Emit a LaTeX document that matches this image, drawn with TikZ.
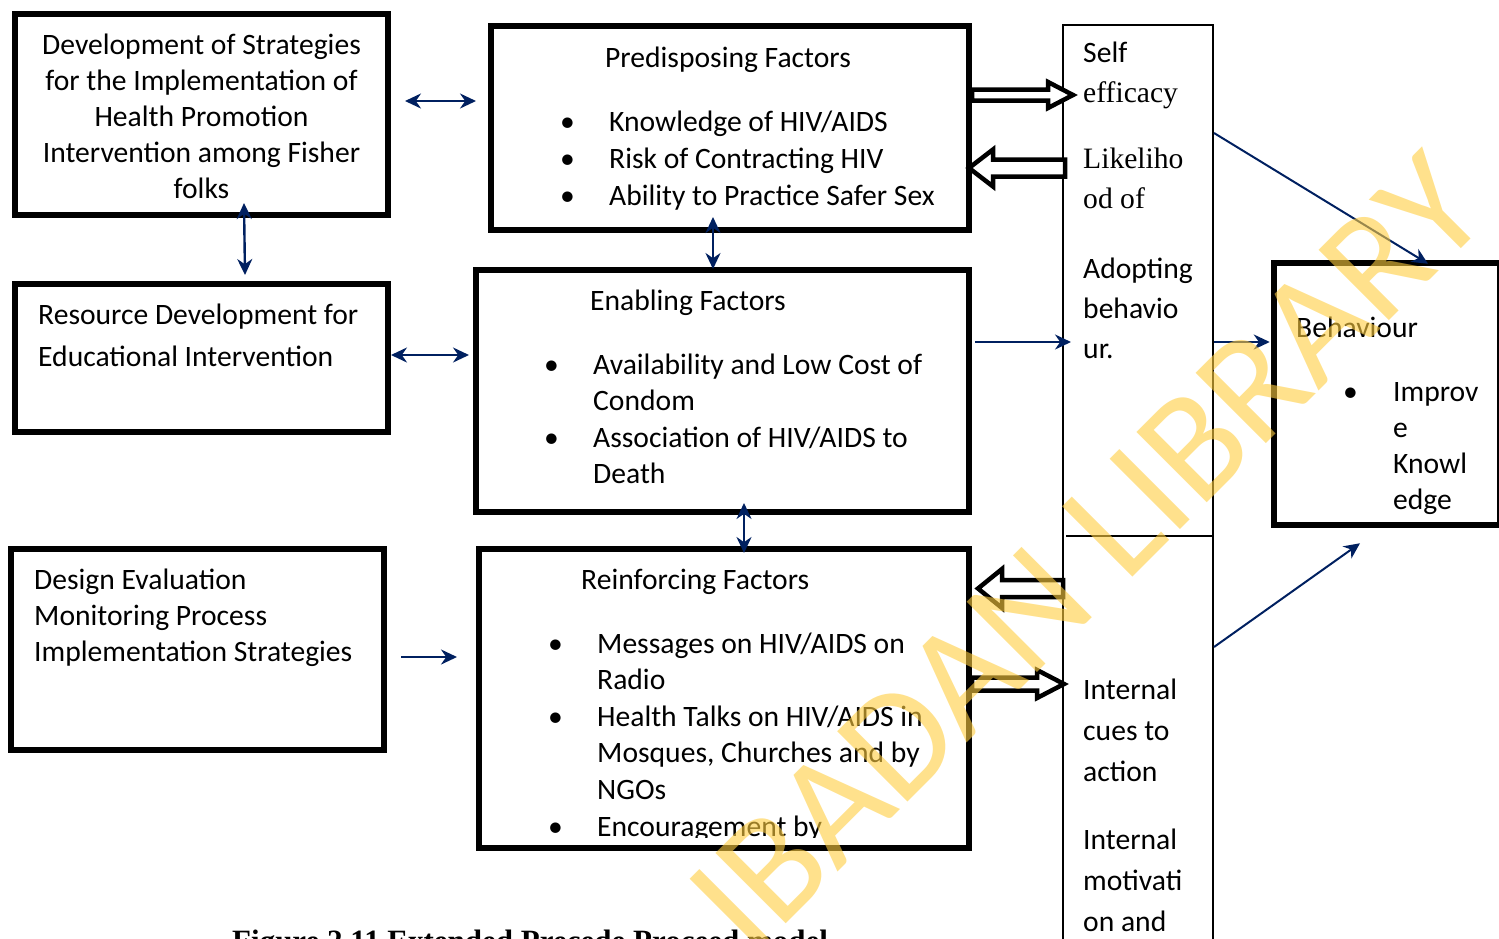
\documentclass[tikz,border=0pt]{standalone}
\usepackage{fontspec}
\setmainfont{Carlito}
\newfontfamily\timesf{Liberation Serif}
\usetikzlibrary{arrows.meta,positioning}

\definecolor{navy}{RGB}{0,32,96}
\definecolor{wmark}{RGB}{255,205,63}

\newcommand{\bul}{\makebox[49pt][l]{\textbullet}}
\newcommand{\ind}{\hspace*{49pt}}

\begin{document}
\begin{tikzpicture}[x=1pt,y=-1pt,
    box/.style={draw, line width=6pt, inner sep=0pt},
    txt/.style={inner sep=0pt, font=\fontsize{29.6}{36}\selectfont},
    lst/.style={txt, anchor=base west, align=left},
    link/.style={navy, line width=2.4pt, -{Stealth[length=16pt,width=15pt]}},
    links/.style={navy, line width=2.4pt, {Stealth[length=16pt,width=15pt]}-{Stealth[length=16pt,width=15pt]}},
    hollow/.style={draw=black, fill=white, line width=4.5pt}]
    \useasboundingbox (0,0) rectangle (1499,938);
    \clip (0,0) rectangle (1499,938);

    % Boxes
    \node[box, minimum width=373pt, minimum height=201pt] (dev) at (201.5,114.5) {};
    \node[box, minimum width=478pt, minimum height=204pt] (pre) at (730,128) {};
    \node[box, minimum width=373pt, minimum height=148pt] (res) at (201.5,358) {};
    \node[box, minimum width=493pt, minimum height=242pt] (ena) at (722.5,391) {};
    \node[box, minimum width=373pt, minimum height=201pt] (des) at (197.5,649.5) {};
    \node[box, minimum width=490pt, minimum height=299pt] (rei) at (724,698.5) {};
    \node[box, line width=6.5pt, minimum width=226pt, minimum height=262pt] (beh) at (1387,394) {};
    \node[draw, line width=2pt, inner sep=0pt, minimum width=150pt, minimum height=935pt] (col) at (1138,492.5) {};
    \coordinate (split) at (1066,536);
    \draw[line width=2pt] (split) -- (split -| col.east);

    % Texts (multi-line nodes sit on the baseline of their last line)
    \node[txt, align=center, anchor=base] (devtxt) at (201.5,198)
        {Development of Strategies\\for the Implementation of\\Health Promotion\\Intervention among Fisher\\folks};
    \node[txt, anchor=base] (pretitle) at (728,67) {Predisposing Factors};
    \node[lst, font=\fontsize{29.6}{37}\selectfont] (prelist) at (560,205)
        {\bul Knowledge of HIV/AIDS\\\bul Risk of Contracting HIV\\\bul Ability to Practice Safer Sex};
    \node[lst, font=\fontsize{29.6}{42}\selectfont] (restxt) at (38,366)
        {Resource Development for\\Educational Intervention};
    \node[txt, anchor=base west] (enatitle) at (590,310) {Enabling Factors};
    \node[lst, font=\fontsize{29.6}{36.5}\selectfont] (enalist) at (544,483.5)
        {\bul Availability and Low Cost of\\\ind Condom\\\bul Association of HIV/AIDS to\\\ind Death};
    \node[lst] (destxt) at (34,661)
        {Design Evaluation\\Monitoring Process\\Implementation Strategies};
    \node[txt, anchor=base west] (reititle) at (581,589) {Reinforcing Factors};
    \begin{scope}
        \clip (rei.north west) rectangle ([yshift=14pt]rei.south east);
        \node[lst, font=\fontsize{29.6}{36.6}\selectfont] (reilist) at (548,836)
            {\bul Messages on HIV/AIDS on\\\ind Radio\\\bul Health Talks on HIV/AIDS in\\\ind Mosques, Churches and by\\\ind NGOs\\\bul Encouragement by};
    \end{scope}
    \node[lst, font=\fontsize{29.6}{40}\selectfont] (coltop) at (1083,358)
        {Self\\{\timesf efficacy}\\[26pt]{\timesf Likeliho}\\{\timesf od of}\\[30pt]Adopting\\behavio\\ur.};
    \node[lst, font=\fontsize{29.6}{41}\selectfont] (colbot) at (1083,931)
        {Internal\\cues to\\action\\[27pt]Internal\\motivati\\on and};
    \node[txt, anchor=base west] (behtitle) at (1296,337) {Behaviour};
    \node[lst, font=\fontsize{29.6}{35.7}\selectfont] (behlist) at (1343,509)
        {\makebox[50pt][l]{\textbullet}Improv\\\hspace*{50pt}e\\\hspace*{50pt}Knowl\\\hspace*{50pt}edge};

    % Connectors
    \draw[links] ([shift={(14,-13.5)}]dev.east) -- ([shift={(-12,-27)}]pre.west);
    \draw[links] ([shift={(42.5,-15)}]dev.south) -- ([shift={(43.5,-6)}]res.north);
    \draw[links] ([shift={(0,-3)}]res.east) -- ([shift={(-4,-36)}]ena.west);
    \draw[links] ([shift={(-17,-16)}]pre.south) -- ([shift={(-9.5,2)}]ena.north);
    \draw[links] ([shift={(21.5,-12)}]ena.south) -- ([shift={(20,7)}]rei.north);
    \draw[link] ([shift={(14,7.5)}]des.east) -- ([shift={(-19,-41.5)}]rei.west);
    \draw[link] ([shift={(3,-49)}]ena.east) -- ([shift={(9,-150.5)}]col.west);
    \draw[link] ([shift={(0,-150.5)}]col.east) -- ([shift={(-1,-52)}]beh.west);
    \draw[link, line width=2pt] ([shift={(0,-359.5)}]col.east) -- ([shift={(41,4)}]beh.north);
    \draw[link, line width=2pt] ([shift={(0,154.5)}]col.east) -- ([shift={(-27,15)}]beh.south);

    % Block arrows
    \draw[hollow] (972,89.5) -- (1048,89.5) -- (1048,82) -- (1073,95) -- (1048,108) -- (1048,100.5) -- (972,100.5) -- cycle;
    \draw[hollow] (1065,159.5) -- (993,159.5) -- (993,149.5) -- (969,168) -- (993,186.5) -- (993,176.5) -- (1065,176.5) -- cycle;
    \draw[hollow] (1063,580) -- (1002,580) -- (1002,569) -- (978,588.5) -- (1002,608) -- (1002,597) -- (1063,597) -- cycle;
    \draw[hollow] (972,677.5) -- (1037,677.5) -- (1037,670) -- (1064,684) -- (1037,698) -- (1037,690.5) -- (972,690.5) -- cycle;

    % Caption
    \node[anchor=base west, inner sep=0pt, font=\timesf\bfseries\fontsize{31}{31}\selectfont] (cap) at (232,951)
        {Figure 2.11 Extended Precede Proceed model};

    % Watermark
    \node[rotate=45, anchor=base, inner sep=0pt, text=wmark, opacity=0.6,
          font=\fontsize{155}{155}\selectfont] (wm) at (1122,588) {IBADAN LIBRARY};
\end{tikzpicture}
\end{document}
